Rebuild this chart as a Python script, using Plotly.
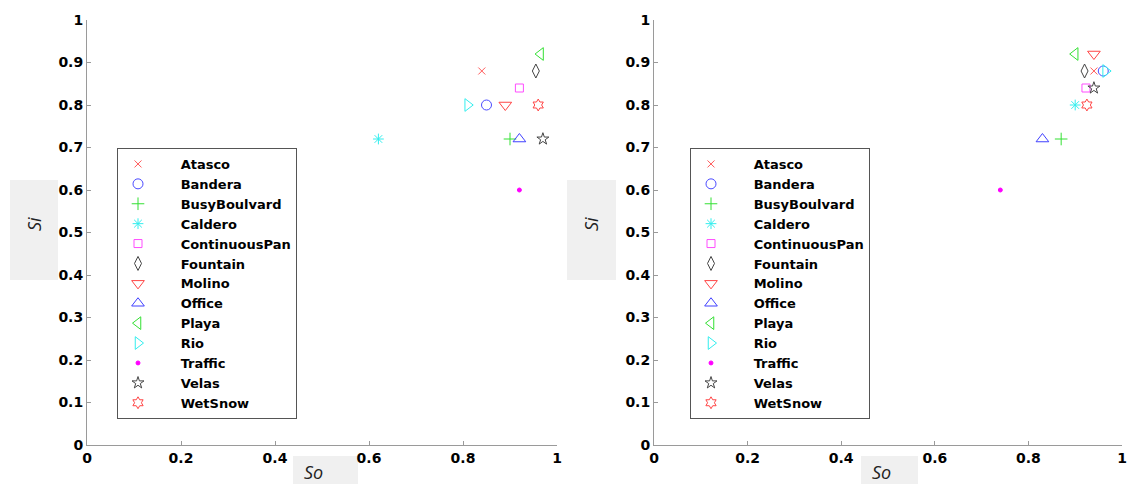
import plotly.graph_objects as go

# ---- data ----
names = ["Atasco", "Bandera", "BusyBoulvard", "Caldero", "ContinuousPan", "Fountain",
         "Molino", "Office", "Playa", "Rio", "Traffic", "Velas", "WetSnow"]

so_left = [0.84, 0.85, 0.90, 0.62, 0.92, 0.955, 0.89, 0.92, 0.965, 0.81, 0.92, 0.97, 0.96]
si_left = [0.88, 0.80, 0.72, 0.72, 0.84, 0.88, 0.80, 0.72, 0.92, 0.80, 0.60, 0.72, 0.80]

so_right = [0.94, 0.96, 0.87, 0.90, 0.923, 0.92, 0.94, 0.83, 0.90, 0.965, 0.74, 0.94, 0.925]
si_right = [0.88, 0.88, 0.72, 0.80, 0.84, 0.88, 0.92, 0.72, 0.92, 0.88, 0.60, 0.84, 0.80]

x_ticks = [0, 0.2, 0.4, 0.6, 0.8, 1]
y_ticks = [0, 0.1, 0.2, 0.3, 0.4, 0.5, 0.6, 0.7, 0.8, 0.9, 1]

# ---- styles ----
symbols = ["x-thin-open", "circle-open", "cross-thin-open", "asterisk-open", "square-open",
           "diamond-tall-open", "triangle-down-open", "triangle-up-open", "triangle-left-open",
           "triangle-right-open", "circle", "star-open", "hexagram-open"]
colors = ["#ff5a5a", "#4a4aff", "#33e033", "#33eeee", "#ff4dff", "#444444",
          "#ff4545", "#4040ff", "#33e033", "#33eeee", "#ff00ff", "#444444", "#ff4545"]
sizes = [7, 10, 9, 9, 8, 10, 11, 11, 11, 11, 4, 9, 9]

W, H = 1128, 484
PAD = "\u00a0" * 5  # gap between legend symbol and label text

fig = go.Figure()

for xs, ys, xa, ya, lg in [(so_left, si_left, "x", "y", "legend"),
                           (so_right, si_right, "x2", "y2", "legend2")]:
    for i, n in enumerate(names):
        fig.add_trace(go.Scatter(
            x=[xs[i]], y=[ys[i]], mode="markers", name=PAD + n,
            xaxis=xa, yaxis=ya, legend=lg, cliponaxis=False,
            marker=dict(symbol=symbols[i], size=sizes[i], color=colors[i],
                        line=dict(color=colors[i], width=1)),
        ))

tickfont = dict(family="DejaVu Sans", size=14, color="black", weight="bold")
axis_common = dict(showgrid=False, zeroline=False, showline=True, linecolor="#9a9a9a",
                   linewidth=1, ticks="inside", ticklen=4, tickcolor="#9a9a9a",
                   tickfont=tickfont, range=[0, 1], fixedrange=True, automargin=False)

ydom = [39 / H, 464 / H]
legfont = dict(family="DejaVu Sans", size=13, color="black", weight="bold")
fig.update_layout(
    width=W, height=H,
    margin=dict(l=0, r=0, t=0, b=0),
    paper_bgcolor="white", plot_bgcolor="white",
    xaxis=dict(domain=[87 / W, 557 / W], tickvals=x_ticks, anchor="y", **axis_common),
    yaxis=dict(domain=ydom, tickvals=y_ticks, anchor="x", **axis_common),
    xaxis2=dict(domain=[654 / W, 1122 / W], tickvals=x_ticks, anchor="y2", **axis_common),
    yaxis2=dict(domain=ydom, tickvals=y_ticks, anchor="x2", **axis_common),
    legend=dict(x=117 / W, y=1 - 148 / H, xanchor="left", yanchor="top", itemwidth=30,
                bgcolor="white", bordercolor="#555555", borderwidth=1, font=legfont),
    legend2=dict(x=690 / W, y=1 - 148 / H, xanchor="left", yanchor="top", itemwidth=30,
                 bgcolor="white", bordercolor="#555555", borderwidth=1, font=legfont),
)

# gray label boxes
boxes = [(10, 180, 58, 280), (567, 180, 616, 280), (293, 456, 358, 484), (861, 456, 918, 484)]
for x0, y0, x1, y1 in boxes:
    fig.add_shape(type="rect", xref="paper", yref="paper",
                  x0=x0 / W, x1=x1 / W, y0=1 - y1 / H, y1=1 - y0 / H,
                  fillcolor="#f0f0f0", line=dict(width=0), layer="below")

labfont = dict(family="Open Sans", size=18, color="#222222", style="italic")
for txt, x, y, ang in [("Si", 34, 224, -90), ("Si", 591, 224, -90),
                       ("So", 313, 472, 0), ("So", 881, 472, 0)]:
    fig.add_annotation(text=txt, xref="paper", yref="paper", x=x / W, y=1 - y / H,
                       xanchor="center", yanchor="middle", showarrow=False,
                       textangle=ang, font=labfont, borderpad=0)

fig.write_html("out.html", config={"displayModeBar": False},
               post_script="document.body.style.margin='0';document.body.style.overflow='hidden';")
